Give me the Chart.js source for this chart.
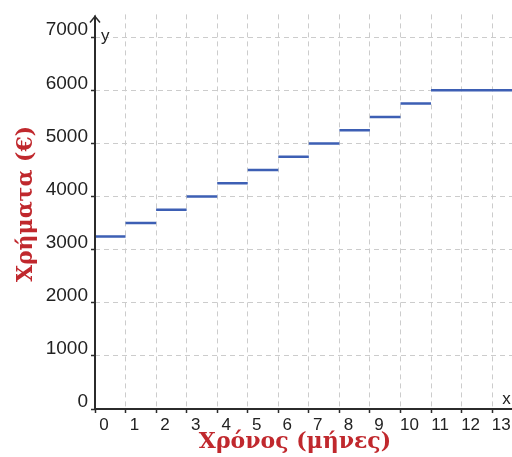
<!DOCTYPE html>
<html>
<head>
<meta charset="utf-8">
<script src="https://cdn.jsdelivr.net/npm/chart.js@4/dist/chart.umd.min.js"></script>
<style>
  html, body { margin: 0; padding: 0; background: #fff; }
  #wrap { width: 512px; height: 457px; }
</style>
</head>
<body>
<div id="wrap"><canvas id="chart" width="512" height="457"></canvas></div>
<script>
// month where each step starts / ends, and the amount for that step
const stepStart = [0, 1, 2, 3, 4, 5, 6, 7, 8, 9, 10, 11];
const stepEnd = [1, 2, 3, 4, 5, 6, 7, 8, 9, 10, 11, 13.65];
const amounts = [3250, 3500, 3750, 4000, 4250, 4500, 4750, 5000, 5250, 5500, 5750, 6000];
const xTicks = [0, 1, 2, 3, 4, 5, 6, 7, 8, 9, 10, 11, 12, 13];
const yTicks = [0, 1000, 2000, 3000, 4000, 5000, 6000, 7000];
const xTitle = 'Χρόνος (μήνες)';
const yTitle = 'Χρήματα (€)';

const points = [];
stepStart.forEach((s, i) => {
  points.push({ x: s, y: amounts[i] });
  points.push({ x: stepEnd[i], y: amounts[i] });
  points.push({ x: stepEnd[i], y: null });
});

const titleRed = '#c0282d';
const axisColor = '#2b2b2b';
const sans = '"Liberation Sans", Arial, sans-serif';

// axes with arrow, x/y letters and the two red axis titles
const decor = {
  id: 'decor',
  afterDraw(chart) {
    const { ctx, chartArea } = chart;
    const ox = chart.scales.x.getPixelForValue(0);
    const oy = chart.scales.y.getPixelForValue(0);
    ctx.save();
    ctx.strokeStyle = axisColor;
    ctx.lineWidth = 2;
    ctx.beginPath();
    ctx.moveTo(ox, oy);
    ctx.lineTo(ox, chartArea.top + 1);
    ctx.moveTo(ox - 1, oy);
    ctx.lineTo(chartArea.right, oy);
    ctx.stroke();
    ctx.lineWidth = 1.5;
    ctx.beginPath();
    ctx.moveTo(ox - 5, chartArea.top + 8);
    ctx.lineTo(ox, chartArea.top + 2);
    ctx.lineTo(ox + 5, chartArea.top + 8);
    ctx.stroke();

    ctx.fillStyle = '#222';
    ctx.font = '17px ' + sans;
    ctx.textBaseline = 'middle';
    ctx.textAlign = 'left';
    ctx.fillText('y', ox + 6, chart.scales.y.getPixelForValue(7000) - 1);
    ctx.fillText('x', chart.scales.x.getPixelForValue(13.33), oy - 10);

    ctx.fillStyle = titleRed;
    ctx.textAlign = 'center';
    ctx.textBaseline = 'alphabetic';
    ctx.font = 'bold 22px "DejaVu Serif", "Liberation Serif", serif';
    ctx.fillText(xTitle, 295, 448);
    ctx.translate(32, 204);
    ctx.rotate(-Math.PI / 2);
    ctx.fillText(yTitle, 0, 0);
    ctx.restore();
  }
};

new Chart(document.getElementById('chart'), {
  type: 'scatter',
  data: {
    datasets: [{
      data: points,
      showLine: true,
      spanGaps: false,
      borderColor: '#3d5fb4',
      borderWidth: 2.5,
      pointRadius: 0,
      pointHoverRadius: 0
    }]
  },
  options: {
    responsive: false,
    animation: false,
    events: [],
    layout: { padding: { top: 5, left: 0, right: 0, bottom: 0 } },
    plugins: { legend: { display: false }, tooltip: { enabled: false } },
    scales: {
      x: {
        type: 'linear',
        min: 0,
        max: 13.65,
        afterBuildTicks: (scale) => { scale.ticks = xTicks.map(v => ({ value: v })); },
        afterFit: (scale) => { scale.height = 48; },
        ticks: {
          padding: 2,
          labelOffset: 9,
          color: '#222',
          font: { family: sans, size: 17 },
          callback: (v) => String(v)
        },
        grid: {
          color: '#cccccc',
          tickLength: 4,
          tickColor: axisColor,
          tickWidth: 1.5,
          tickBorderDash: []
        },
        border: { display: false, dash: [5, 4] }
      },
      y: {
        type: 'linear',
        min: 0,
        max: 7430,
        afterBuildTicks: (scale) => { scale.ticks = yTicks.map(v => ({ value: v })); },
        afterFit: (scale) => { scale.width = 95; },
        ticks: {
          padding: 3,
          labelOffset: -7,
          color: '#222',
          font: { family: sans, size: 19 },
          callback: (v) => String(v)
        },
        grid: {
          color: '#cccccc',
          tickLength: 4,
          tickColor: axisColor,
          tickWidth: 1.5,
          tickBorderDash: []
        },
        border: { display: false, dash: [5, 4] }
      }
    }
  },
  plugins: [decor]
});
</script>
</body>
</html>
